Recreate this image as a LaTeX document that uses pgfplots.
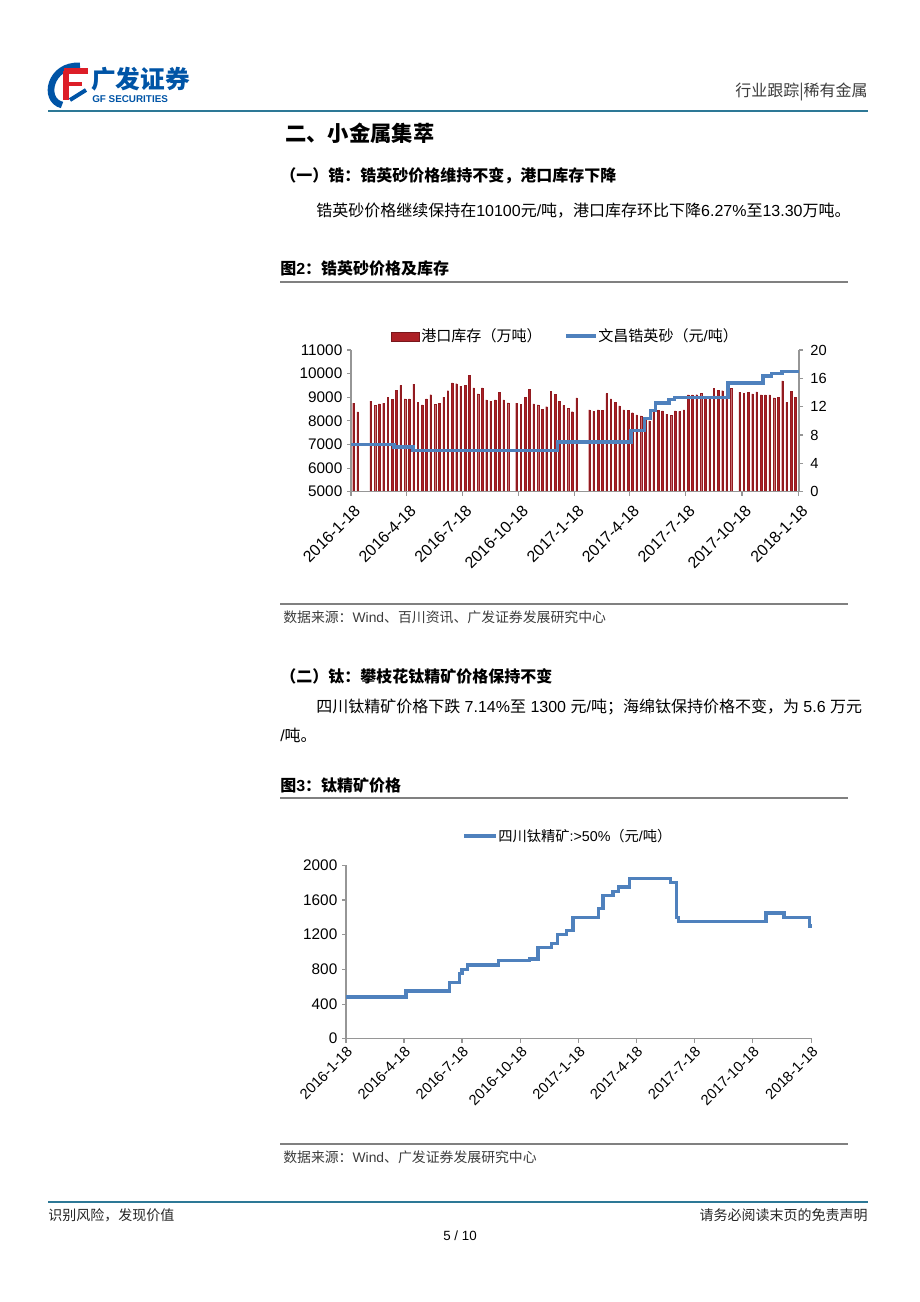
\documentclass[border=0pt]{standalone}
\usepackage{fontspec}
\setmainfont{Liberation Sans}
\newfontfamily\cjk{Noto Sans CJK SC}
\usepackage{pgfplots}
\usepackage{pgfplotstable}
\pgfplotsset{compat=1.18}
\definecolor{barred}{RGB}{172,32,38}
\definecolor{lineblue}{RGB}{79,129,189}
\definecolor{hdrteal}{RGB}{45,120,150}
\definecolor{axgray}{RGB}{150,150,150}
\definecolor{logoblue}{RGB}{0,84,166}
\definecolor{logored}{RGB}{220,30,40}
\definecolor{txtgray}{RGB}{60,60,60}

\pgfplotstableread{
day val
4 12.5
11 11.25
32 12.8
39 12.15
46 12.4
53 12.5
60 13.3
67 13.05
74 14.35
81 15.0
88 13.1
95 13.1
102 15.2
109 12.65
116 12.25
123 13.1
130 13.7
137 12.35
144 12.5
151 13.35
158 14.25
165 15.35
172 15.25
179 14.9
186 15.0
193 16.45
200 14.65
207 13.8
214 14.65
221 12.95
228 12.8
235 12.95
242 14.05
249 12.95
256 12.55
270 12.5
277 12.3
284 13.3
291 14.45
298 12.4
305 12.25
312 11.65
319 12.0
326 14.2
333 13.75
340 12.8
347 12.2
354 11.75
361 11.3
368 13.25
389 11.55
396 11.35
403 11.55
410 11.45
417 13.85
424 13.1
431 12.65
438 12.1
445 11.55
452 11.5
459 11.15
466 10.85
473 10.7
480 10.3
487 10.0
494 11.4
501 11.5
508 11.4
515 10.95
522 10.8
529 11.4
536 11.35
543 11.55
550 13.65
557 13.65
564 13.7
571 13.9
578 13.4
585 13.4
592 14.6
599 14.35
606 14.25
613 13.5
620 14.6
634 14.05
641 13.9
648 14.05
655 13.8
662 14.1
669 13.65
676 13.65
683 13.65
690 13.25
697 13.3
704 15.65
711 12.6
718 14.2
725 13.3
}\bartable

\pgfplotstableread{
day val
0 7000
70 6900
101 6750
337 7100
457 7600
479 8100
489 8450
497 8750
519 8900
528 9000
615 9600
672 9900
686 10000
703 10100
731 10100
}\zrtable

\pgfplotstableread{
day val
0 480
94 550
162 650
178 750
182 800
191 850
239 900
288 920
301 1050
322 1100
332 1200
346 1250
356 1400
396 1500
403 1650
419 1700
427 1750
445 1850
509 1800
518 1400
522 1350
659 1450
687 1400
727 1300
731 1300
}\titable

\pgfplotsset{
  pagechart/.style={
    scale only axis,
    anchor=south west,
    xmin=0, xmax=731,
    axis line style={axgray, line width=0.8pt},
    tick style={axgray, line width=0.8pt},
    tick align=outside,
    major tick length=3pt,
    tick label style={font=\fontsize{11.5}{12}\selectfont, text=black},
    /pgf/number format/assume math mode=true,
    /pgf/number format/set thousands separator={},
    scaled y ticks=false,
  },
  datelabels/.style={
    xtick={0,91,182,274,365,455,546,638,730},
    xticklabels={2016-1-18,2016-4-18,2016-7-18,2016-10-18,2017-1-18,2017-4-18,2017-7-18,2017-10-18,2018-1-18},
    x tick label style={rotate=45, anchor=north east, inner sep=1.5pt},
  },
}

\begin{document}
\begin{tikzpicture}
\begin{scope}[x=0.75pt,y=-0.75pt]
\path (0,0) rectangle (920,1302);
% logo
\draw[logoblue, line width=5pt] (80,66) .. controls (50,64) and (42,100) .. (62,105);
\draw[logored, line width=4pt] (64,71) -- (88,71);
\draw[logored, line width=4pt] (66,71) -- (66,100);
\draw[logored, line width=3.5pt] (66,84) -- (82,84);
\draw[logoblue, line width=3pt] (70,100) -- (86,90);
\node[anchor=west, inner sep=0, text=logoblue, font=\cjk\bfseries\fontsize{18.5}{20}\selectfont] at (91,79) {广发证券};
\node[anchor=west, inner sep=0, text=logoblue, font=\bfseries\fontsize{7.4}{8}\selectfont] at (92,99) {GF SECURITIES};
\node[anchor=east, inner sep=0, text=txtgray, font=\cjk\fontsize{12}{14}\selectfont] at (868,92) {行业跟踪|稀有金属};
\draw[hdrteal, line width=2pt] (48,111) -- (868,111);
% headings
\node[anchor=west, inner sep=0, font=\cjk\bfseries\fontsize{16}{18}\selectfont] at (285,133) {二、小金属集萃};
\node[anchor=west, inner sep=0, font=\cjk\bfseries\fontsize{12}{14}\selectfont] at (280,176) {（一）锆：锆英砂价格维持不变，港口库存下降};
\node[anchor=west, inner sep=0, font=\fontsize{12}{14}\selectfont] at (316,211) {{\cjk 锆英砂价格继续保持在}10100{\cjk 元}/{\cjk 吨，港口库存环比下降}6.27\%{\cjk 至}13.30{\cjk 万吨。}};
\node[anchor=west, inner sep=0, font=\bfseries\fontsize{12}{14}\selectfont] at (280,268) {{\cjk 图}2{\cjk ：锆英砂价格及库存}};
\draw[gray, line width=1.2pt] (280,282) -- (848,282);
% legend chart 1
\draw[draw=barred!70!black, fill=barred, line width=0.6pt] (391,332) rectangle (419,341);
\node[anchor=west, inner sep=0, font=\cjk\fontsize{11.3}{12}\selectfont] at (421,336) {港口库存（万吨）};
\draw[lineblue, line width=2.4pt] (566,336) -- (596,336);
\node[anchor=west, inner sep=0, font=\fontsize{11.3}{12}\selectfont] at (598,336) {{\cjk 文昌锆英砂（元}/{\cjk 吨）}};
% source 1
\draw[gray, line width=1pt] (280,604) -- (848,604);
\node[anchor=west, inner sep=0, text=txtgray, font=\fontsize{10.4}{12}\selectfont] at (283,617) {{\cjk 数据来源：}Wind{\cjk 、百川资讯、广发证券发展研究中心}};
% section 2
\node[anchor=west, inner sep=0, font=\cjk\bfseries\fontsize{12}{14}\selectfont] at (280,676) {（二）钛：攀枝花钛精矿价格保持不变};
\node[anchor=west, inner sep=0, font=\fontsize{12}{14}\selectfont] at (316,707) {{\cjk 四川钛精矿价格下跌} 7.14\%{\cjk 至} 1300 {\cjk 元}/{\cjk 吨；海绵钛保持价格不变，为} 5.6 {\cjk 万元}};
\node[anchor=west, inner sep=0, font=\fontsize{12}{14}\selectfont] at (280,735) {/{\cjk 吨。}};
\node[anchor=west, inner sep=0, font=\bfseries\fontsize{12}{14}\selectfont] at (280,785) {{\cjk 图}3{\cjk ：钛精矿价格}};
\draw[gray, line width=1.2pt] (280,798) -- (848,798);
% legend chart 2
\draw[lineblue, line width=2.4pt] (464,836) -- (496,836);
\node[anchor=west, inner sep=0, font=\fontsize{10.7}{12}\selectfont] at (498,836) {{\cjk 四川钛精矿}:>50\%{\cjk （元}/{\cjk 吨）}};
% source 2
\draw[gray, line width=1pt] (280,1144) -- (848,1144);
\node[anchor=west, inner sep=0, text=txtgray, font=\fontsize{10.4}{12}\selectfont] at (283,1157) {{\cjk 数据来源：}Wind{\cjk 、广发证券发展研究中心}};
% footer
\draw[hdrteal, line width=2pt] (48,1202) -- (868,1202);
\node[anchor=west, inner sep=0, text=black!85, font=\cjk\fontsize{10.5}{12}\selectfont] at (48,1215) {识别风险，发现价值};
\node[anchor=east, inner sep=0, text=black!85, font=\cjk\fontsize{10.5}{12}\selectfont] at (868,1215) {请务必阅读末页的免责声明};
\node[inner sep=0, font=\fontsize{10}{12}\selectfont] at (460,1236) {5 / 10};
\end{scope}

% ---------- chart 1: bars (right axis) ----------
\begin{axis}[pagechart,
  at={(263.25pt,-368.775pt)}, width=336pt, height=106.275pt,
  ymin=0, ymax=20, ytick={0,4,...,20},
  axis x line=none, axis y line*=right,
  y tick label style={anchor=west, xshift=2pt, font=\fontsize{11}{12}\selectfont},
]
\addplot[ybar, bar shift=0pt, bar width=1.15pt, fill=barred, draw=barred!85!black, line width=0.2pt] table[x=day,y=val] {\bartable};
\end{axis}
% ---------- chart 1: line (left axis) ----------
\begin{axis}[pagechart, datelabels,
  at={(263.25pt,-368.775pt)}, width=336pt, height=106.275pt,
  ymin=5000, ymax=11000, ytick={5000,6000,...,11000},
  axis x line*=bottom, axis y line*=left,
  x tick label style={font=\fontsize{12}{12}\selectfont, yshift=-4pt, xshift=-1.5pt},
]
\addplot[const plot, lineblue, line width=2.5pt] table[x=day,y=val] {\zrtable};
\end{axis}

% ---------- chart 2 ----------
\begin{axis}[pagechart, datelabels,
  at={(259.5pt,-779.025pt)}, width=349.5pt, height=130.05pt,
  ymin=0, ymax=2000, ytick={0,400,...,2000},
  axis x line*=bottom, axis y line*=left,
  x tick label style={font=\fontsize{11}{12}\selectfont},
]
\addplot[const plot, lineblue, line width=2.5pt] table[x=day,y=val] {\titable};
\end{axis}
\end{tikzpicture}
\end{document}
